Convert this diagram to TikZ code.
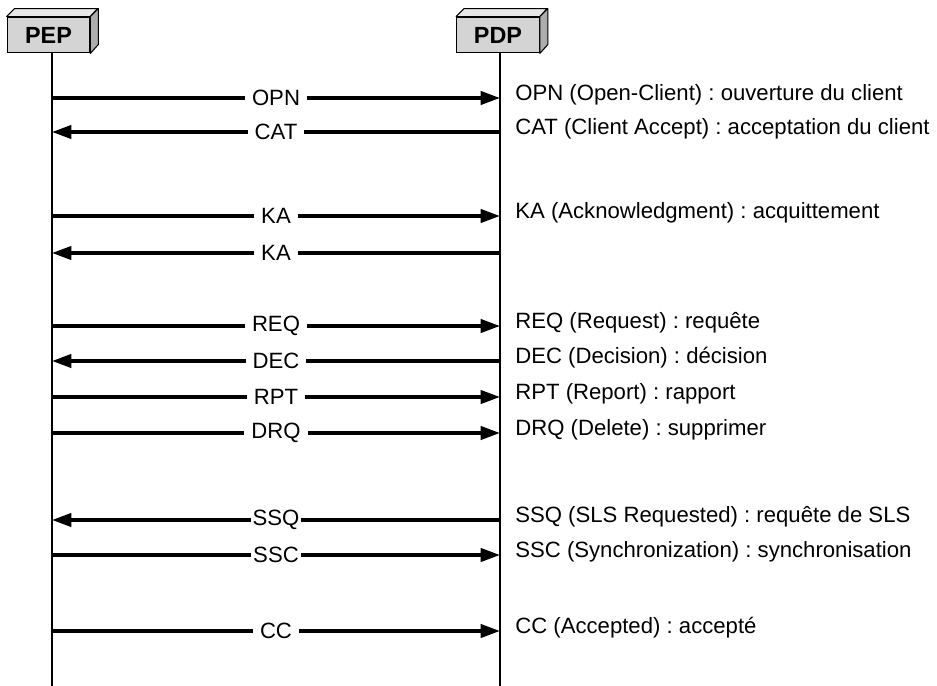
\documentclass[tikz,border=0pt]{standalone}
\usepackage{fontspec}
\setmainfont{Liberation Sans}
\usetikzlibrary{arrows.meta}
\frenchspacing

\tikzset{
  msg/.style={line width=2pt,-{Triangle[length=11pt,width=7.5pt]}},
  msgtxt/.style={fill=white,inner xsep=4pt,inner ysep=2pt,font=\fontsize{12.6}{15}\selectfont},
  desc/.style={anchor=west,inner sep=0pt,font=\fontsize{12.6}{15}\selectfont},
  life/.style={line width=1.2pt},
  entity/.style={draw,line width=.6pt,fill=black!17,minimum width=47pt,minimum height=20.4pt,
    inner sep=0pt,font=\bfseries\fontsize{13.3}{15}\selectfont},
  top face/.style={draw,line width=.6pt,fill=black!9,line join=round},
  side face/.style={draw,line width=.6pt,fill=black!32,line join=round}
}

\begin{document}
\begin{tikzpicture}[x=0.02cm,y=-0.02cm]
\useasboundingbox (0,0) rectangle (937,686);
% entities
\node[entity] (pep) at (48.5,35) {PEP};
\node[entity] (pdp) at (498,35) {PDP};
\path[top face] (pep.north west) -- ++(8,-8) -- ++(83,0) -- (pep.north east) -- cycle;
\path[side face] (pep.north east) -- ++(8,-8) -- ++(0,36) -- (pep.south east) -- cycle;
\path[top face] (pdp.north west) -- ++(8,-8) -- ++(83,0) -- (pdp.north east) -- cycle;
\path[side face] (pdp.north east) -- ++(8,-8) -- ++(0,36) -- (pdp.south east) -- cycle;
% lifelines
\coordinate (pep-top) at (52,53);
\coordinate (pep-bot) at (52,686);
\coordinate (pdp-top) at (500,53);
\coordinate (pdp-bot) at (500,686);
\draw[life] (pep-top) -- (pep-bot);
\draw[life] (pdp-top) -- (pdp-bot);
% message ends
\coordinate (pep1) at (52,98);  \coordinate (pdp1) at (500,98);
\coordinate (pep2) at (52,132); \coordinate (pdp2) at (500,132);
\coordinate (pep3) at (52,216); \coordinate (pdp3) at (500,216);
\coordinate (pep4) at (52,253); \coordinate (pdp4) at (500,253);
\coordinate (pep5) at (52,326); \coordinate (pdp5) at (500,326);
\coordinate (pep6) at (52,361); \coordinate (pdp6) at (500,361);
\coordinate (pep7) at (52,397); \coordinate (pdp7) at (500,397);
\coordinate (pep8) at (52,433); \coordinate (pdp8) at (500,433);
\coordinate (pep9) at (52,520); \coordinate (pdp9) at (500,520);
\coordinate (pep10) at (52,555); \coordinate (pdp10) at (500,555);
\coordinate (pep11) at (52,631); \coordinate (pdp11) at (500,631);
% messages
\draw[msg] (pep1) -- node[msgtxt] (m1) {OPN} (pdp1);
\draw[msg] (pdp2) -- node[msgtxt] (m2) {CAT} (pep2);
\draw[msg] (pep3) -- node[msgtxt] (m3) {KA} (pdp3);
\draw[msg] (pdp4) -- node[msgtxt] (m4) {KA} (pep4);
\draw[msg] (pep5) -- node[msgtxt] (m5) {REQ} (pdp5);
\draw[msg] (pdp6) -- node[msgtxt] (m6) {DEC} (pep6);
\draw[msg] (pep7) -- node[msgtxt] (m7) {RPT} (pdp7);
\draw[msg] (pep8) -- node[msgtxt] (m8) {DRQ} (pdp8);
\draw[msg] (pdp9) -- node[msgtxt,inner xsep=1pt] (m9) {SSQ} (pep9);
\draw[msg] (pep10) -- node[msgtxt,inner xsep=1pt] (m10) {SSC} (pdp10);
\draw[msg] (pep11) -- node[msgtxt] (m11) {CC} (pdp11);
% descriptions
\node[desc] (d1) at (515,95) {OPN (Open-Client) : ouverture du client};
\node[desc] (d2) at (515,129) {CAT (Client Accept) : acceptation du client};
\node[desc] (d3) at (515,213) {KA (Acknowledgment) : acquittement};
\node[desc] (d5) at (515,323) {REQ (Request) : requête};
\node[desc] (d6) at (515,358) {DEC (Decision) : décision};
\node[desc] (d7) at (515,394) {RPT (Report) : rapport};
\node[desc] (d8) at (515,430) {DRQ (Delete) : supprimer};
\node[desc] (d9) at (515,517) {SSQ (SLS Requested) : requête de SLS};
\node[desc] (d10) at (515,552) {SSC (Synchronization) : synchronisation};
\node[desc] (d11) at (515,628) {CC (Accepted) : accepté};
\end{tikzpicture}
\end{document}
